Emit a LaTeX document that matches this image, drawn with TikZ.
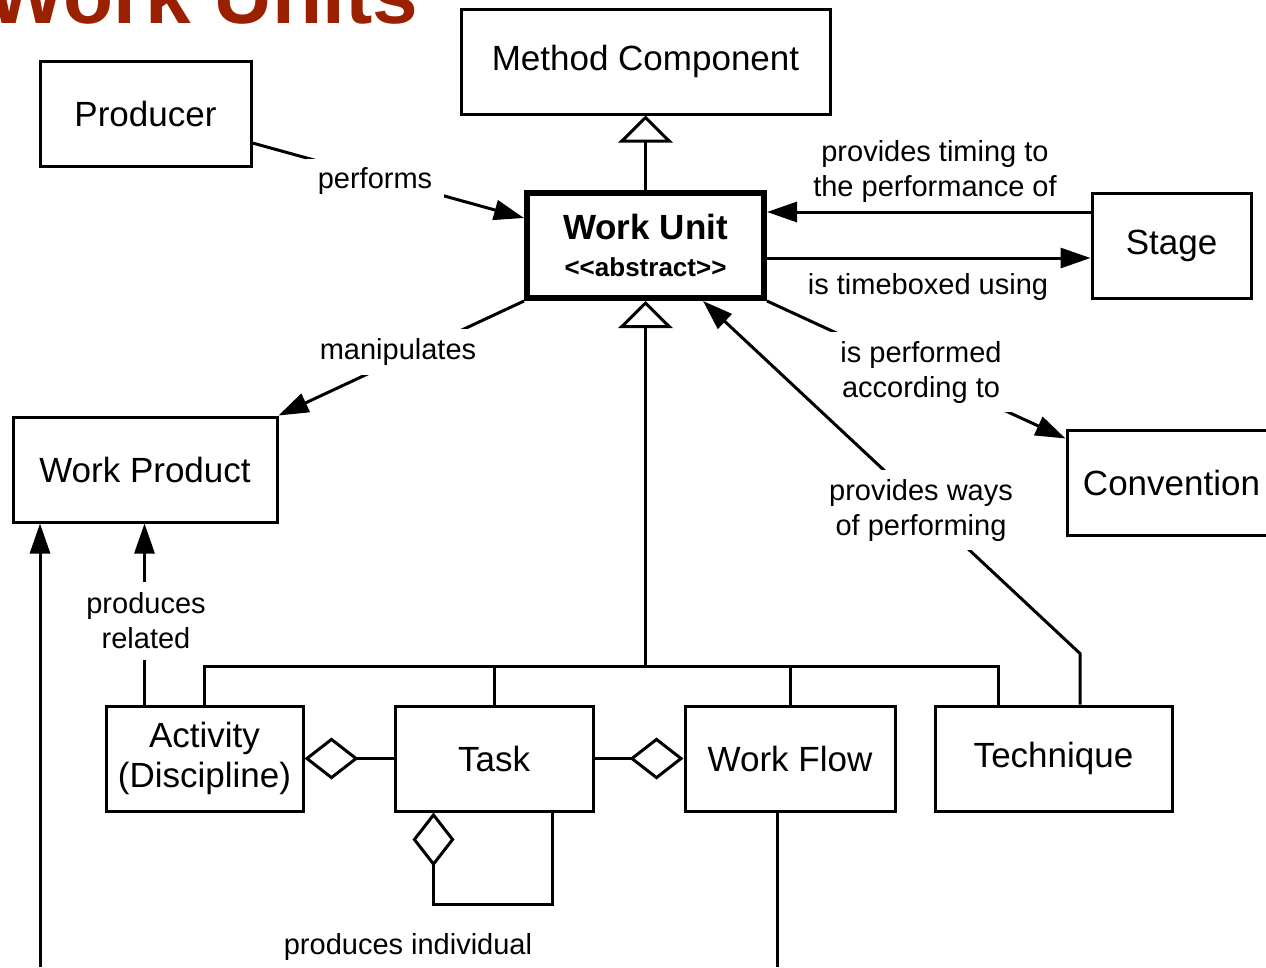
\documentclass[tikz,border=0pt]{standalone}
\usepackage{fontspec}
\setmainfont{Liberation Sans}
\usetikzlibrary{arrows.meta,calc}
\definecolor{titlered}{RGB}{155,32,0}
\begin{document}
\begin{tikzpicture}[x=1pt,y=-1pt,
  box/.style={draw, line width=3pt, minimum height=105pt, inner sep=0pt, font=\fontsize{35}{40}\selectfont, align=center},
  lbl/.style={font=\fontsize{29}{35}\selectfont, align=center, inner sep=0pt},
  gap/.style={lbl, fill=white, inner xsep=12pt, inner ysep=9pt},
  conn/.style={line width=3pt},
  arr/.style={conn, -{Triangle[length=30pt,width=20pt]}},
  gen/.style={conn, -{Triangle[length=27pt,width=54pt,fill=white]}},
  agg/.style={conn, -{Diamond[length=54pt,width=42pt,fill=white]}},
]
\useasboundingbox (0,0) rectangle (1266,967);

% title
\node[anchor=base west, inner sep=0pt, text=titlered, font=\fontsize{82}{96}\selectfont\bfseries] (title) at (-13,23) {Work Units};

% boxes
\node[box, minimum width=369pt] (mc) at (645.5,61.5) {Method Component};
\node[box, minimum width=211pt] (prod) at (145.5,113.5) {Producer};
\node[box, line width=6pt, minimum width=237pt, font=\fontsize{35}{37}\selectfont\bfseries] (wu) at (645.5,245.5)
  {Work Unit\\{\fontsize{26}{38}\selectfont <{}<abstract>{}>}};
\node[box, minimum width=159pt] (stage) at (1171.5,245.5) {Stage};
\node[box, minimum width=264pt] (wp) at (145,469.5) {Work Product};
\node[box, minimum width=209pt] (conv) at (1171.5,482.5) {Convention};
\node[box, minimum width=197pt] (act) at (204.5,758.5) {Activity\\(Discipline)};
\node[box, minimum width=198pt] (task) at (494,758.5) {Task};
\node[box, minimum width=210pt] (wf) at (790,758.5) {Work Flow};
\node[box, minimum width=237pt] (tech) at (1053.5,758.5) {Technique};

% generalizations
\draw[gen] (wu) -- (mc);
\coordinate (bus) at (645.5,666);
\coordinate (tk) at ($(tech.north west)+(65,0)$);
\draw[gen] (bus) -- (wu.south);
\draw[conn] (act.north) |- (bus) -| (tk);
\draw[conn] (task.north) -- (task.north |- bus);
\draw[conn] (wf.north) -- (wf.north |- bus);

% associations
\draw[arr] ($(prod.east)+(0,29.5)$) -- ($(wu.west)+(0,-27.5)$);
\draw[arr] (wu.south west) -- (wp.north east);
\draw[arr] ($(stage.west)+(0,-33.5)$) -- ($(wu.east)+(0,-33.5)$);
\draw[arr] ($(wu.east)+(0,12.5)$) -- ($(stage.west)+(0,12.5)$);
\draw[arr] (wu.south east) -- ($(conv.north west)+(0,10)$);
\draw[arr] ($(tech.north)+(26.5,0)$) -- ++(0,-51) -- ($(wu.south)+(57.5,0)$);
\coordinate (pr) at ($(act.north west)+(40,0)$);
\draw[arr] (pr) -- (pr |- wp.south);
\coordinate (lb) at (40,967);
\draw[arr] (lb) -- (lb |- wp.south);
\coordinate (wfb) at (777,967);
\draw[conn] (wf.south -| wfb) -- (wfb);

% aggregations
\draw[agg] (task.west) -- (act.east);
\draw[agg] (task.east) -- (wf.west);
\draw[conn, {Diamond[length=54pt,width=42pt,fill=white]}-] ($(task.south west)+(40,0)$) -- ++(0,92) -| ($(task.south west)+(159,0)$);

% labels
\node[gap] (lperf) at (375,181) {performs};
\node[gap] (lmanip) at (398,352) {manipulates};
\node[lbl] (ltiming) at (935,171) {provides timing to\\the performance of};
\node[lbl] (ltimebox) at (928,287) {is timeboxed using};
\node[gap] (laccord) at (921,372) {is performed\\according to};
\node[gap] (lways) at (921,510) {provides ways\\of performing};
\node[gap, inner ysep=11pt] (lrel) at (146,621) {produces\\related};
\node[lbl] (lindiv) at (408,947) {produces individual};
\end{tikzpicture}
\end{document}
